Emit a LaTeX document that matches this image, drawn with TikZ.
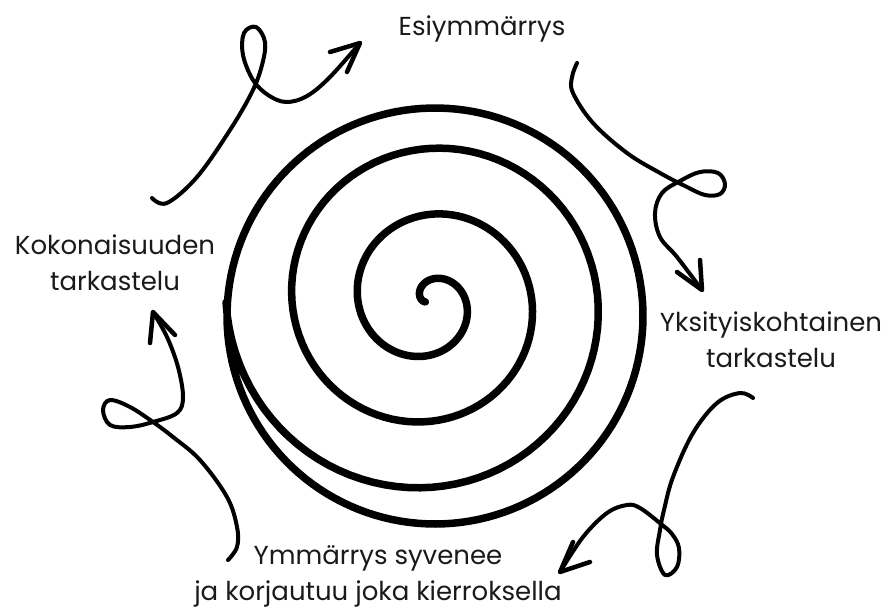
\documentclass[tikz,border=0pt]{standalone}
\usepackage{fontspec}
\setmainfont{Poppins}
\definecolor{ink}{HTML}{1A1A1A}
\begin{document}
\begin{tikzpicture}[x=1pt,y=-1pt,
  spiralline/.style={line width=7.5pt, line cap=round, line join=round},
  loopy/.style={line width=4pt, line cap=round, line join=round},
  head/.style={line width=4.5pt, line cap=round, line join=round},
  lbl/.style={font=\fontsize{26}{36}\selectfont, text=ink, align=center, inner sep=0pt, anchor=base}]
\useasboundingbox (0,0) rectangle (886,608);

% spiral
\draw[spiralline] plot[domain=-9.55:9.4248, samples=300, variable=\t]
  ({428.5+(103.5+10.504*\t)*cos(\t r)}, {301.5+(103.5+10.504*\t)*sin(\t r)})
  -- plot[domain=3.2114:9.5, samples=150, variable=\t]
  ({435+208*cos(\t r)}, {316+208*sin(\t r)});

% labels (base anchor = baseline of the last line)
\node[lbl] (t1) at (482,35) {Esiymmärrys};
\node[lbl] (t2) at (115,290) {Kokonaisuuden\\tarkastelu};
\node[lbl] (t3) at (771,367) {Yksityiskohtainen\\tarkastelu};
\node[lbl] (t4) at (378,600) {Ymmärrys syvenee\\ja korjautuu joka kierroksella};

% arrow 1 (top left)
\coordinate (a1s) at (152,198);
\coordinate (a1t) at (360,43);
\draw[loopy] plot[smooth, tension=0.6] coordinates {(a1s) (167,203) (197,177) (230,130) (252,92) (262,65) (265,42) (256,27) (244,33) (243,55) (253,80) (268,95) (286,102) (307,96) (330,77) (a1t)};
\draw[head] (330,52) -- (a1t) -- (347,72);

% arrow 2 (top right)
\coordinate (a2s) at (577,63);
\coordinate (a2t) at (702,290);
\draw[loopy] plot[smooth, tension=0.6] coordinates {(a2s) (572,77) (573,93) (593,123) (627,153) (660,173) (685,186) (705,195) (720,194) (725,184) (718,173) (700,172) (680,181) (662,193) (655,213) (660,237) (677,257) (a2t)};
\draw[head] (677,272) -- (a2t) -- (700,260);

% arrow 3 (bottom right)
\coordinate (a3s) at (753,398);
\coordinate (a3t) at (560,572);
\draw[loopy] plot[smooth, tension=0.6] coordinates {(a3s) (740,393) (717,403) (693,433) (673,477) (664,510) (660,530) (657,555) (665,575) (677,567) (679,548) (672,534) (661,524) (640,508) (627,505) (607,513) (583,537) (a3t)};
\draw[head] (573,542) -- (a3t) -- (590,562);

% arrow 4 (bottom left)
\coordinate (a4s) at (228,560);
\coordinate (a4t) at (153,312);
\draw[loopy] plot[smooth, tension=0.6] coordinates {(a4s) (237,547) (237,527) (227,497) (200,460) (173,437) (153,422) (130,407) (110,400) (103,410) (110,425) (130,427) (153,422) (177,413) (183,397) (178,367) (167,337) (a4t)};
\draw[head] (150,343) -- (a4t) -- (175,335);
\end{tikzpicture}
\end{document}
